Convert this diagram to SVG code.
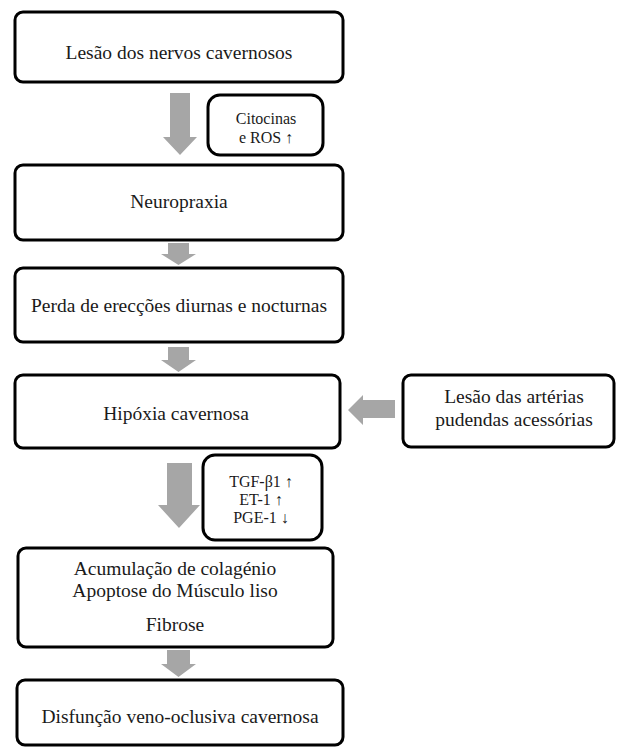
<svg xmlns="http://www.w3.org/2000/svg" width="617" height="749" viewBox="0 0 617 749">
<style>
.box{fill:#fff;stroke:#000;stroke-width:3}
.t{font-family:"Liberation Serif","Times New Roman",serif;font-size:19.5px;fill:#1a1a1a;text-anchor:middle}
.s{font-family:"Liberation Serif","Times New Roman",serif;font-size:16px;fill:#1a1a1a;text-anchor:middle}
.arr{fill:#a6a6a6}
</style>
<rect width="617" height="749" fill="#fff"/>
<g id="connectors">
<polygon class="arr" points="170,93 190,93 190,137 197,137 180,155 163,137 170,137"/>
<polygon class="arr" points="168,243 189,243 189,254 196,254 178.5,265 161,254 168,254"/>
<polygon class="arr" points="168,347 189,347 189,360 196,360 178.5,372 161,360 168,360"/>
<polygon class="arr" points="395,400 363,400 363,395 348,410 363,425 363,418 395,418"/>
<polygon class="arr" points="167,463 192,463 192,505 200,505 179,528 158,505 167,505"/>
<polygon class="arr" points="167,650 190,650 190,664 196,664 178.5,677 161,664 167,664"/>
</g>
<g id="n1"><rect class="box" x="15" y="12" width="328" height="70" rx="8"/><text class="t" x="179" y="59">Lesão dos nervos cavernosos</text></g>
<g id="n_cit"><rect class="box" x="208" y="95" width="115" height="60" rx="12"/><text class="s" x="266" y="124">Citocinas</text><text class="s" x="266" y="143">e ROS ↑</text></g>
<g id="n2"><rect class="box" x="15" y="165" width="328" height="75" rx="8"/><text class="t" x="179" y="208">Neuropraxia</text></g>
<g id="n3"><rect class="box" x="15" y="268" width="328" height="74" rx="8"/><text class="t" x="179" y="312">Perda de erecções diurnas e nocturnas</text></g>
<g id="n4"><rect class="box" x="15" y="375" width="325" height="73" rx="8"/><text class="t" x="176" y="420">Hipóxia cavernosa</text></g>
<g id="n_art"><rect class="box" x="403" y="375" width="211" height="72" rx="8"/><text class="t" x="514" y="403">Lesão das artérias</text><text class="t" x="514" y="426">pudendas acessórias</text></g>
<g id="n_tgf"><rect class="box" x="203" y="455" width="119" height="85" rx="12"/><text class="s" x="261" y="487">TGF-β1 ↑</text><text class="s" x="261" y="505">ET-1 ↑</text><text class="s" x="261" y="523">PGE-1 ↓</text></g>
<g id="n5"><rect class="box" x="18" y="548" width="315" height="99" rx="8"/><text class="t" x="175" y="575">Acumulação de colagénio</text><text class="t" x="175" y="597">Apoptose do Músculo liso</text><text class="t" x="175" y="631">Fibrose</text></g>
<g id="n6"><rect class="box" x="17" y="680" width="326" height="65" rx="8"/><text class="t" x="180" y="723">Disfunção veno-oclusiva cavernosa</text></g>
</svg>
